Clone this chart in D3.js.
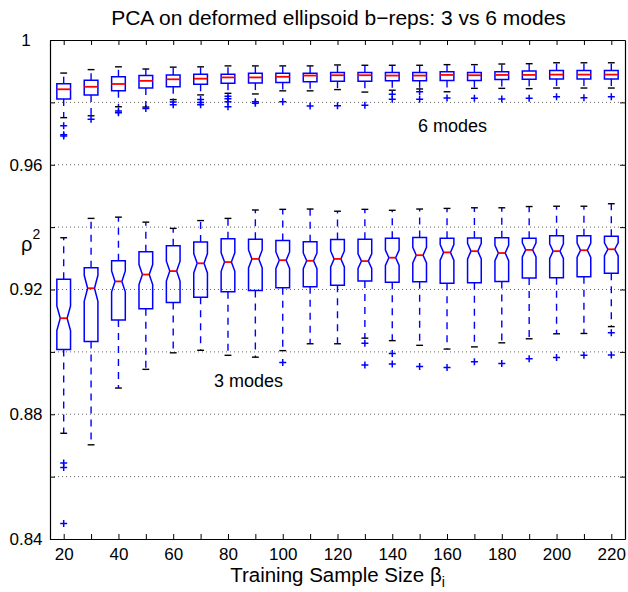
<!DOCTYPE html>
<html>
<head>
<meta charset="utf-8">
<script src="https://cdn.jsdelivr.net/npm/d3@7"></script>
<style>
body { margin: 0; background: #fff; }
svg { display: block; font-family: "Liberation Sans", Arial, Helvetica, sans-serif; }
</style>
</head>
<body>
<svg id="chart" width="628" height="592"></svg>
<script>
// training sample sizes (one box per size)
const sampleSizes = [20, 30, 40, 50, 60, 70, 80, 90, 100, 110, 120, 130, 140, 150, 160, 170, 180, 190, 200, 210, 220];
const xTickLabels = [20, 40, 60, 80, 100, 120, 140, 160, 180, 200, 220];
const yTicks = [0.84, 0.86, 0.88, 0.90, 0.92, 0.94, 0.96, 0.98, 1];
const yTickLabels = [0.84, 0.88, 0.92, 0.96, 1];

// 6 modes
const sixHi = [0.9894, 0.9905, 0.9914, 0.9907, 0.9913, 0.9914, 0.9917, 0.9917, 0.9917, 0.9917, 0.9920, 0.9919, 0.9919, 0.9919, 0.9921, 0.9921, 0.9923, 0.9924, 0.9927, 0.9927, 0.9927];
const sixQ3 = [0.9860, 0.9871, 0.9882, 0.9886, 0.9888, 0.9890, 0.9890, 0.9893, 0.9893, 0.9893, 0.9896, 0.9896, 0.9896, 0.9896, 0.9898, 0.9896, 0.9898, 0.9901, 0.9902, 0.9902, 0.9902];
const sixMedian = [0.9842, 0.9850, 0.9859, 0.9869, 0.9874, 0.9876, 0.9880, 0.9880, 0.9882, 0.9886, 0.9887, 0.9887, 0.9886, 0.9886, 0.9888, 0.9887, 0.9888, 0.9888, 0.9889, 0.9889, 0.9889];
const sixQ1 = [0.9811, 0.9824, 0.9837, 0.9846, 0.9850, 0.9858, 0.9861, 0.9862, 0.9864, 0.9866, 0.9868, 0.9868, 0.9869, 0.9869, 0.9870, 0.9870, 0.9873, 0.9874, 0.9875, 0.9875, 0.9875];
const sixLo = [0.9751, 0.9757, 0.9786, 0.9785, 0.9809, 0.9824, 0.9829, 0.9827, 0.9837, 0.9837, 0.9841, 0.9833, 0.9839, 0.9843, 0.9834, 0.9845, 0.9845, 0.9844, 0.9846, 0.9846, 0.9846];
const sixOutliers = [
    [0.9725, 0.9696, 0.9692], [0.9746], [0.9772, 0.9767], [0.9780], [0.9801, 0.9792],
    [0.9809, 0.9800, 0.9792], [0.9820, 0.9812, 0.9802, 0.9786], [0.9802, 0.9797], [0.9802], [0.9788],
    [0.9789], [0.9791], [0.9826, 0.9810], [0.9834, 0.9810], [0.9814], [0.9813], [0.9811],
    [0.9813], [0.9818], [0.9815], [0.9818]
];

// 3 modes
const threeHi = [0.9366, 0.9428, 0.9432, 0.9416, 0.9396, 0.9421, 0.9428, 0.9455, 0.9457, 0.9458, 0.9451, 0.9457, 0.9454, 0.9458, 0.9460, 0.9462, 0.9462, 0.9466, 0.9467, 0.9467, 0.9475];
const threeQ3 = [0.9233, 0.9270, 0.9292, 0.9321, 0.9340, 0.9352, 0.9363, 0.9361, 0.9357, 0.9353, 0.9360, 0.9361, 0.9364, 0.9367, 0.9364, 0.9365, 0.9366, 0.9364, 0.9372, 0.9372, 0.9371];
const threeMedian = [0.9108, 0.9204, 0.9226, 0.9248, 0.9259, 0.9284, 0.9288, 0.9298, 0.9294, 0.9292, 0.9298, 0.9291, 0.9302, 0.9310, 0.9319, 0.9323, 0.9317, 0.9327, 0.9323, 0.9326, 0.9329];
const threeQ1 = [0.9008, 0.9033, 0.9102, 0.9138, 0.9158, 0.9175, 0.9193, 0.9197, 0.9206, 0.9209, 0.9214, 0.9227, 0.9223, 0.9225, 0.9220, 0.9222, 0.9226, 0.9237, 0.9238, 0.9241, 0.9252];
const threeLo = [0.8739, 0.8702, 0.8884, 0.8944, 0.8997, 0.9005, 0.8989, 0.8983, 0.9004, 0.9026, 0.9026, 0.9044, 0.9036, 0.9021, 0.9009, 0.9016, 0.9029, 0.9042, 0.9058, 0.9059, 0.9081];
const threeOutliers = [
    [0.8644, 0.8629, 0.8450], [], [], [], [], [], [], [], [0.8966], [], [],
    [0.9028, 0.8958], [0.8995, 0.8961], [0.8953], [0.8950], [0.8968], [0.8963],
    [0.8978], [0.8982], [0.8989], [0.9061, 0.8990]
];

// trials per sample size, used for the notch (1.57*IQR/sqrt(n))
const trialsPerSize = 80;

const width = 628, height = 592;
const margin = {top: 40, right: 3, bottom: 53, left: 50};

const svg = d3.select("#chart");

const x = d3.scaleLinear()
            .domain([15, 225])
            .range([margin.left, width - margin.right]);

const y = d3.scaleLinear()
            .domain([0.84, 1])
            .range([height - margin.bottom, margin.top]);

// grid
svg.append("g")
    .selectAll("line")
    .data(yTicks.filter(d => d > 0.84 && d < 1))
    .join("line")
    .attr("x1", margin.left)
    .attr("x2", width - margin.right)
    .attr("y1", d => y(d))
    .attr("y2", d => y(d))
    .attr("stroke", "#666")
    .attr("stroke-width", 1)
    .attr("stroke-dasharray", "1,3");

function makeGroups(hi, q3, med, q1, lo, out) {
    return sampleSizes.map((s, i) => ({
        size: s, hi: hi[i], q3: q3[i], med: med[i], q1: q1[i], lo: lo[i], out: out[i]
    }));
}

function drawBoxes(data, notched) {
    const g = svg.append("g");
    const halfW = 2.5, halfCap = 1.25;

    const box = g.selectAll("g.box")
        .data(data)
        .join("g")
        .attr("class", "box");

    // whiskers
    box.append("line")
        .attr("x1", d => x(d.size)).attr("x2", d => x(d.size))
        .attr("y1", d => y(d.q3)).attr("y2", d => y(d.hi))
        .attr("stroke", "#0000ff").attr("stroke-width", 1.4)
        .attr("stroke-dasharray", "7,6");
    box.append("line")
        .attr("x1", d => x(d.size)).attr("x2", d => x(d.size))
        .attr("y1", d => y(d.q1)).attr("y2", d => y(d.lo))
        .attr("stroke", "#0000ff").attr("stroke-width", 1.4)
        .attr("stroke-dasharray", "7,6");

    // caps
    [d => d.hi, d => d.lo].forEach(acc => {
        box.append("line")
            .attr("x1", d => x(d.size - halfCap)).attr("x2", d => x(d.size + halfCap))
            .attr("y1", d => y(acc(d))).attr("y2", d => y(acc(d)))
            .attr("stroke", "#000").attr("stroke-width", 1.4);
    });

    // box
    box.append("path")
        .attr("fill", "none")
        .attr("stroke", "#0000ff")
        .attr("stroke-width", 1.5)
        .attr("d", d => {
            const x0 = x(d.size - halfW), x1 = x(d.size + halfW);
            if (!notched) {
                return `M${x0},${y(d.q3)}H${x1}V${y(d.q1)}H${x0}Z`;
            }
            const n = 1.57 * (d.q3 - d.q1) / Math.sqrt(trialsPerSize);
            const xi0 = x(d.size - halfCap), xi1 = x(d.size + halfCap);
            return `M${x0},${y(d.q3)}L${x1},${y(d.q3)}L${x1},${y(d.med + n)}L${xi1},${y(d.med)}` +
                   `L${x1},${y(d.med - n)}L${x1},${y(d.q1)}L${x0},${y(d.q1)}L${x0},${y(d.med - n)}` +
                   `L${xi0},${y(d.med)}L${x0},${y(d.med + n)}Z`;
        });

    // median
    box.append("line")
        .attr("x1", d => x(d.size - (notched ? halfCap : halfW)))
        .attr("x2", d => x(d.size + (notched ? halfCap : halfW)))
        .attr("y1", d => y(d.med)).attr("y2", d => y(d.med))
        .attr("stroke", "#ff0000").attr("stroke-width", 1.8);

    // outliers
    box.selectAll("path.out")
        .data(d => d.out.map(v => ({size: d.size, v: v})))
        .join("path")
        .attr("class", "out")
        .attr("d", d => {
            const cx = x(d.size), cy = y(d.v);
            return `M${cx - 3.5},${cy}H${cx + 3.5}M${cx},${cy - 3.5}V${cy + 3.5}`;
        })
        .attr("stroke", "#0000ff")
        .attr("stroke-width", 1.5);
}

drawBoxes(makeGroups(sixHi, sixQ3, sixMedian, sixQ1, sixLo, sixOutliers), false);
drawBoxes(makeGroups(threeHi, threeQ3, threeMedian, threeQ1, threeLo, threeOutliers), true);

// axes (ticks point inward, like the original)
const fmtY = d => yTickLabels.includes(d) ? (d === 1 ? "1" : d3.format(".2f")(d)) : "";
const fmtX = d => xTickLabels.includes(d) ? d : "";

const leftAxis = svg.append("g")
    .attr("transform", `translate(${margin.left},0)`)
    .call(d3.axisLeft(y).tickValues(yTicks).tickSizeInner(-5).tickSizeOuter(0).tickFormat(fmtY));
leftAxis.selectAll("text")
    .attr("x", -24)
    .attr("text-anchor", "middle");

const rightAxis = svg.append("g")
    .attr("transform", `translate(${width - margin.right},0)`)
    .call(d3.axisRight(y).tickValues(yTicks).tickSizeInner(-5).tickSizeOuter(0).tickFormat(""));

const bottomAxis = svg.append("g")
    .attr("transform", `translate(0,${height - margin.bottom})`)
    .call(d3.axisBottom(x).tickValues(sampleSizes).tickSizeInner(-5).tickSizeOuter(0).tickPadding(9).tickFormat(fmtX));

const topAxis = svg.append("g")
    .attr("transform", `translate(0,${margin.top})`)
    .call(d3.axisTop(x).tickValues(sampleSizes).tickSizeInner(-5).tickSizeOuter(0).tickFormat(""));

svg.selectAll(".domain").attr("stroke", "#000").attr("stroke-width", 1.2);
svg.selectAll(".tick line").attr("stroke", "#000");
svg.selectAll(".tick text")
    .attr("font-size", 17)
    .attr("font-family", "Liberation Sans, Arial, Helvetica, sans-serif")
    .attr("fill", "#000");

// annotations
svg.append("text")
    .attr("x", x(162))
    .attr("y", y(0.9704))
    .attr("text-anchor", "middle")
    .attr("font-size", 18)
    .text("6 modes");

svg.append("text")
    .attr("x", x(87.5))
    .attr("y", y(0.8887))
    .attr("text-anchor", "middle")
    .attr("font-size", 18)
    .text("3 modes");

// title + labels
svg.append("text")
    .attr("x", (margin.left + width - margin.right) / 2 + 1)
    .attr("y", 25)
    .attr("text-anchor", "middle")
    .attr("font-size", 21)
    .text("PCA on deformed ellipsoid b\u2212reps: 3 vs 6 modes");

const xLabel = svg.append("text")
    .attr("x", (margin.left + width - margin.right) / 2)
    .attr("y", 582)
    .attr("text-anchor", "middle")
    .attr("font-size", 20.5)
    .text("Training Sample Size \u03b2");
xLabel.append("tspan")
    .attr("font-size", 14)
    .attr("dy", 5)
    .text("i");

const yLabel = svg.append("text")
    .attr("x", 21)
    .attr("y", 251)
    .attr("font-size", 20)
    .text("\u03c1");
yLabel.append("tspan")
    .attr("font-size", 14)
    .attr("dy", -12)
    .text("2");
</script>
</body>
</html>
